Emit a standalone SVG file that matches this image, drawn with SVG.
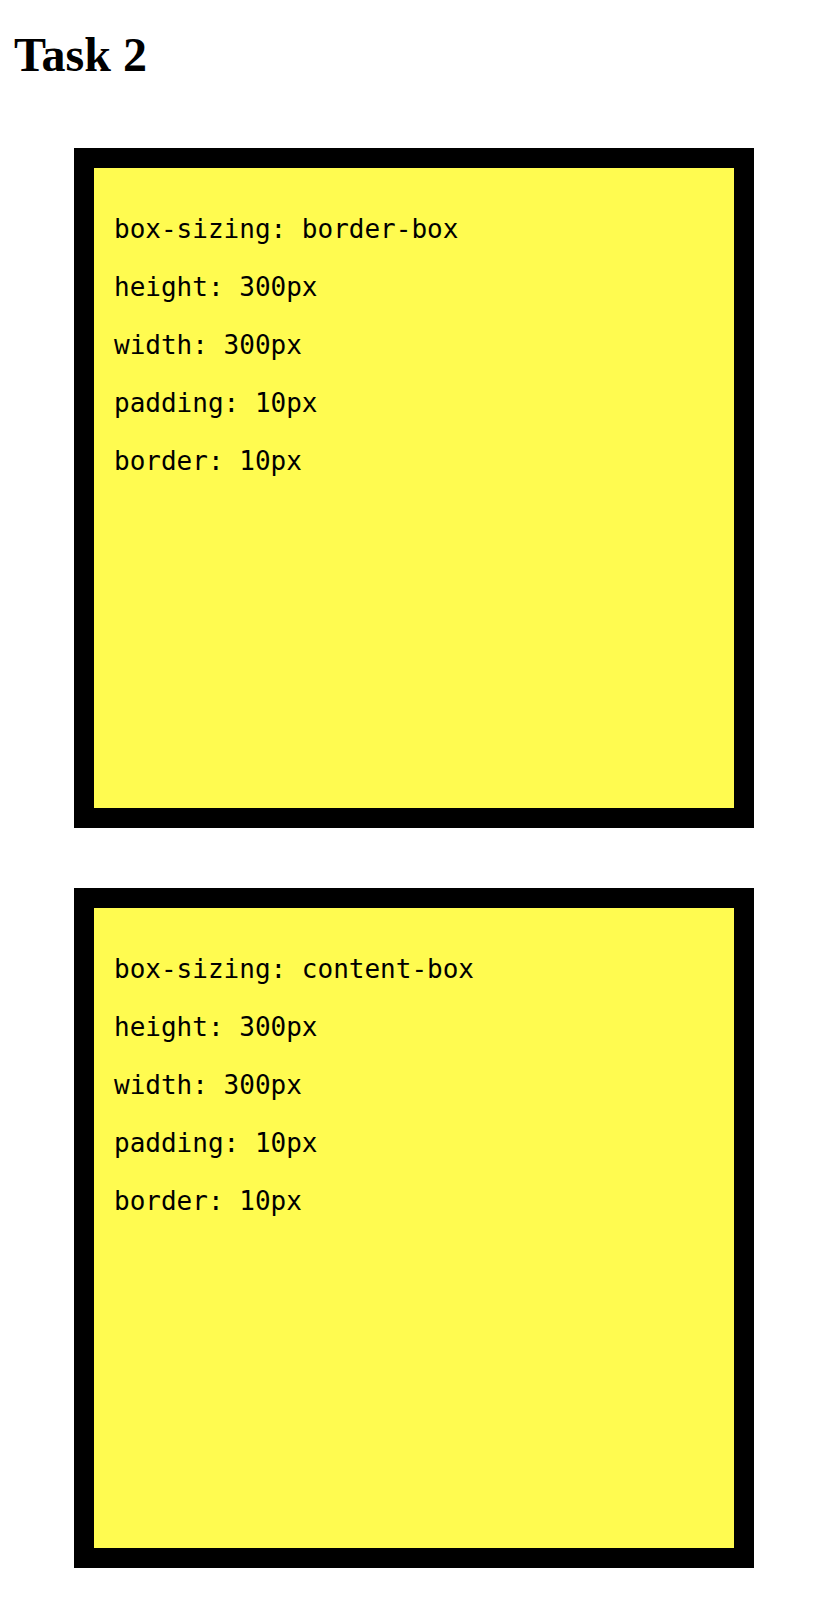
<svg xmlns="http://www.w3.org/2000/svg" width="828" height="1606" viewBox="0 0 828 1606">
<style>
.title{font-family:"Liberation Serif","Times New Roman",serif;font-weight:bold;font-size:48px;fill:#000}
.box{fill:#FFFB50;stroke:#000;stroke-width:20}
.t{font-family:"DejaVu Sans Mono","Liberation Mono",monospace;font-size:26px;fill:#000}
</style>
<rect width="828" height="1606" fill="#fff"/>
<text class="title" x="14" y="71">Task 2</text>
<g id="box-border">
<rect class="box" x="84" y="158" width="660" height="660"/>
<text class="t" x="114" y="238">box-sizing: border-box</text>
<text class="t" x="114" y="296">height: 300px</text>
<text class="t" x="114" y="354">width: 300px</text>
<text class="t" x="114" y="412">padding: 10px</text>
<text class="t" x="114" y="470">border: 10px</text>
</g>
<g id="box-content">
<rect class="box" x="84" y="898" width="660" height="660"/>
<text class="t" x="114" y="978">box-sizing: content-box</text>
<text class="t" x="114" y="1036">height: 300px</text>
<text class="t" x="114" y="1094">width: 300px</text>
<text class="t" x="114" y="1152">padding: 10px</text>
<text class="t" x="114" y="1210">border: 10px</text>
</g>
<g id="connectors"/>
</svg>
